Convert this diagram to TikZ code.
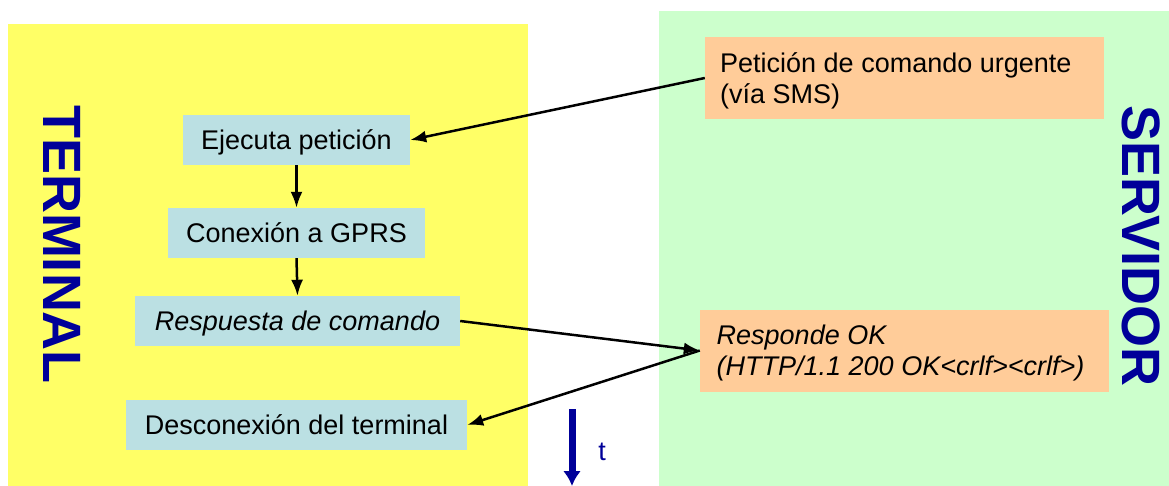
\documentclass[tikz,border=0pt]{standalone}
\usepackage{fontspec}
\setmainfont{Liberation Sans}
\usetikzlibrary{arrows.meta}
\definecolor{termyellow}{HTML}{FFFF66}
\definecolor{servgreen}{HTML}{CCFFCC}
\definecolor{boxblue}{HTML}{BBE0E3}
\definecolor{boxorange}{HTML}{FFCC99}
\definecolor{titleblue}{HTML}{000099}
\tikzset{
  txt/.style={font=\fontsize{27}{31}\selectfont, text=black},
  termbox/.style={txt, fill=boxblue, inner sep=0pt, minimum height=50pt, text height=19.5pt, text depth=0pt},
  servbox/.style={fill=boxorange, inner sep=0pt, minimum height=82pt},
  servtext/.style={txt, inner sep=0pt, anchor=base west},
  title/.style={font=\fontsize{54}{60}\selectfont\bfseries, text=titleblue, rotate=-90, inner sep=0pt},
  flow/.style={-{Latex[length=16pt,width=12pt]}, line width=2.5pt, black},
  timearrow/.style={-{Latex[length=15pt,width=18pt]}, line width=7pt, titleblue}
}
\begin{document}
\begin{tikzpicture}[x=1pt,y=-1pt]
\useasboundingbox (0,0) rectangle (1169,486);
% panels
\fill[termyellow] (8,24) rectangle (528,486);
\fill[servgreen] (659,11) rectangle (1169,486);
% titles
\node[title] (terminal) at (62.5,244.5) {TERMINAL};
\node[title] (servidor) at (1141,246) {SERVIDOR};
% terminal boxes
\node[termbox, minimum width=227pt] (ejecuta) at (296.5,140) {Ejecuta petición};
\node[termbox, minimum width=257pt] (conexion) at (296.5,233) {Conexión a GPRS};
\node[termbox, minimum width=325pt] (respuesta) at (297.5,321) {\itshape Respuesta de comando};
\node[termbox, minimum width=341pt] (desconexion) at (296.5,425) {Desconexión del terminal};
% server boxes
\node[servbox, minimum width=399pt] (peticion) at (904.5,78) {};
\node[servtext] (peticiontext) at (720,72.5)
  {\parbox[t]{380pt}{Petición de comando urgente\\(vía SMS)}};
\node[servbox, minimum width=409pt] (responde) at (904.5,350.5) {};
\node[servtext] (respondetext) at (716.5,344.3)
  {\parbox[t]{390pt}{\itshape Responde OK\\(HTTP/1.1 200 OK<crlf><crlf>)}};
% connectors
\draw[flow] (peticion.west) -- (ejecuta.east);
\draw[flow] (ejecuta.south) -- (conexion.north);
\draw[flow] (conexion.south) -- (respuesta.north);
\draw[flow] (respuesta.east) -- (responde.west);
\draw[flow] (responde.west) -- (desconexion.east);
% time arrow
\coordinate (tstart) at (572,409);
\coordinate (tend) at (572,486);
\draw[timearrow] (tstart) -- (tend);
\node[txt, text=titleblue, inner sep=0pt] (tlabel) at (602,452) {t};
\end{tikzpicture}
\end{document}
